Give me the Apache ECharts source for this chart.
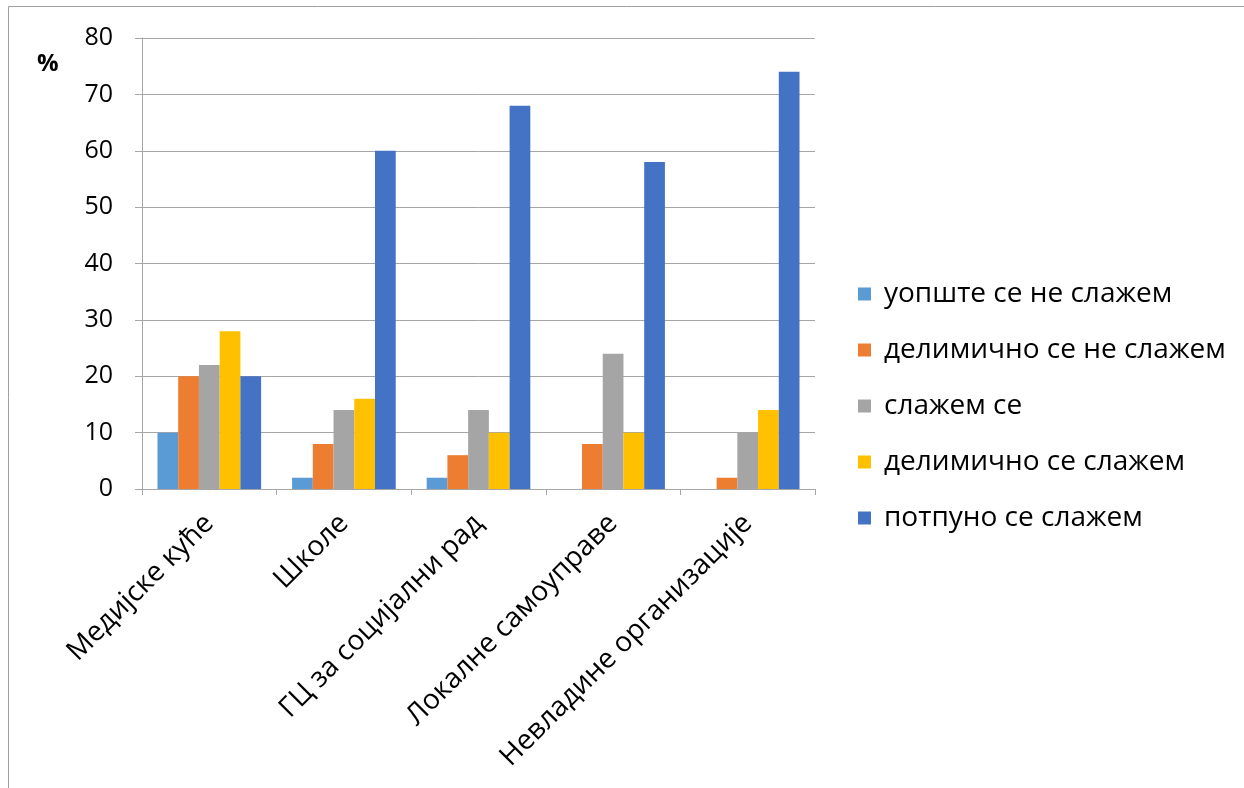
<!DOCTYPE html>
<html><head><meta charset="utf-8">
<script src="https://cdn.jsdelivr.net/npm/echarts@6/dist/echarts.min.js"></script>
<style>html,body{margin:0;padding:0;background:#fff}#c{width:1244px;height:788px}</style>
</head><body><div id="c"></div>
<script>
const categories = ['Медијске куће', 'Школе', 'ГЦ за социјални рад', 'Локалне самоуправе', 'Невладине организације'];
const seriesNames = ['уопште се не слажем', 'делимично се не слажем', 'слажем се', 'делимично се слажем', 'потпуно се слажем'];
const s1 = [10, 2, 2, 0, 0];
const s2 = [20, 8, 6, 8, 2];
const s3 = [22, 14, 14, 24, 10];
const s4 = [28, 16, 10, 10, 14];
const s5 = [20, 60, 68, 58, 74];
const colors = ['#5B9BD5', '#ED7D31', '#A5A5A5', '#FFC000', '#4472C4'];
const font = 'Open Sans, Noto Sans, sans-serif';
const chart = echarts.init(document.getElementById('c'));
const data = [s1, s2, s3, s4, s5];
chart.setOption({
  animation: false,
  color: colors,
  textStyle: {fontFamily: font},
  grid: {left: 142, right: 429, top: 38, bottom: 299, containLabel: false},
  graphic: [
    {type: 'rect', shape: {x: 8.5, y: 6.5, width: 1250, height: 800}, style: {fill: 'none', stroke: '#a0a0a0', lineWidth: 1}},
    {type: 'text', left: 37, top: 52, style: {text: '%', font: 'bold 24px ' + font, fill: '#000'}}
  ],
  legend: {
    orient: 'vertical', left: 853, top: 275,
    itemWidth: 13, itemHeight: 13, itemGap: 28,
    icon: 'rect',
    textStyle: {fontSize: 28, lineHeight: 28, color: '#000', fontFamily: font, padding: [0, 0, 0, 8]},
    data: seriesNames
  },
  xAxis: {
    type: 'category', data: categories,
    axisLine: {lineStyle: {color: '#a6a6a6', width: 1}},
    axisTick: {show: true, length: 6, lineStyle: {color: '#a6a6a6'}},
    axisLabel: {rotate: 45, fontSize: 28, color: '#000', margin: 30, interval: 0, fontFamily: font}
  },
  yAxis: {
    type: 'value', min: 0, max: 80, interval: 10,
    axisLine: {show: true, lineStyle: {color: '#a6a6a6'}},
    axisTick: {show: true, length: 7, inside: false, lineStyle: {color: '#a6a6a6'}},
    axisLabel: {fontSize: 25, color: '#000', margin: 29, fontFamily: font},
    splitLine: {lineStyle: {color: '#a6a6a6', width: 1}}
  },
  series: seriesNames.map((n, i) => ({
    name: n, type: 'bar', data: data[i],
    barGap: '0%', barCategoryGap: '23%',
    itemStyle: {color: colors[i]}
  }))
});
</script></body></html>
